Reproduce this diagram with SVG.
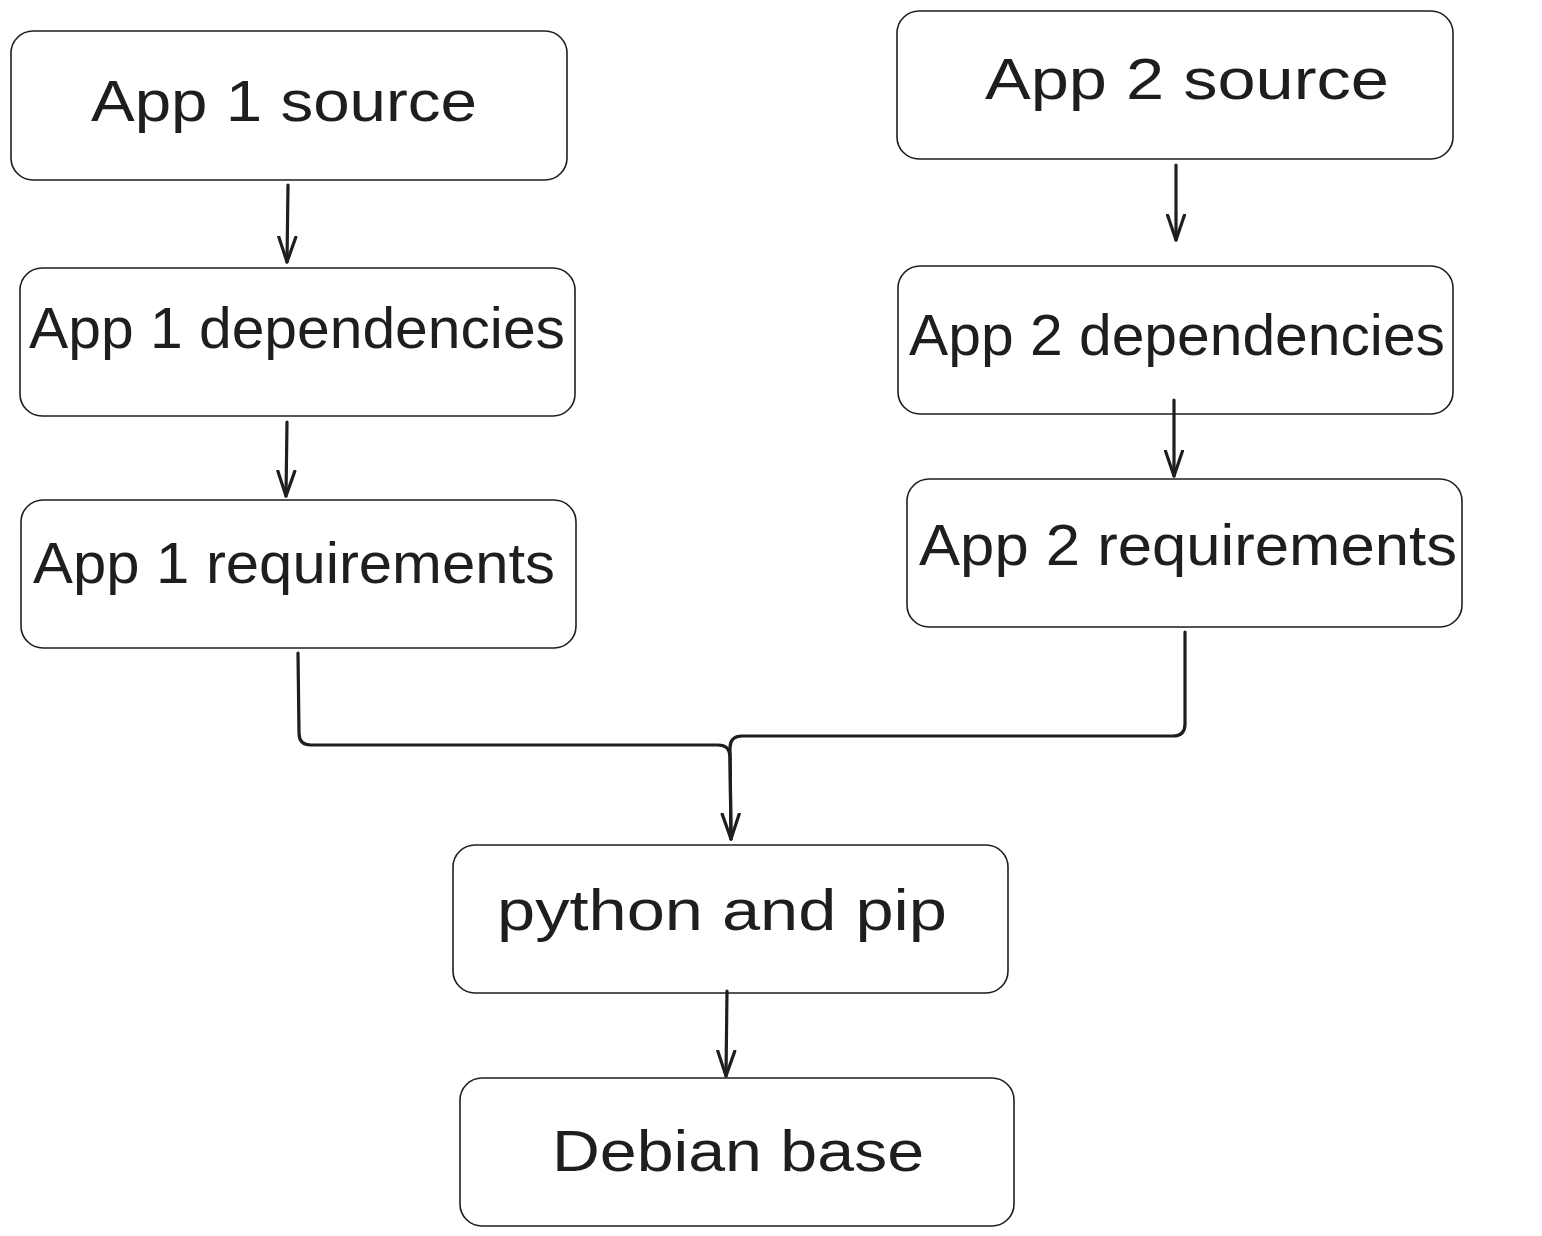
<svg xmlns="http://www.w3.org/2000/svg" width="1542" height="1236" viewBox="0 0 1542 1236">
<style>
.box{fill:#fff;stroke:#1e1e1e;stroke-width:1.6}
.lbl{font-family:"Liberation Sans","DejaVu Sans",sans-serif;font-size:58px;fill:#1e1e1e;text-anchor:middle}
.edge{fill:none;stroke:#1e1e1e;stroke-width:3.2;stroke-linecap:round;stroke-linejoin:round}
</style>
<defs>
<marker id="ah" markerWidth="30" markerHeight="24" refX="26" refY="12" orient="auto" markerUnits="userSpaceOnUse">
<path d="M1,3.5 L26,12 L1,20.5" fill="none" stroke="#1e1e1e" stroke-width="3.2" stroke-linecap="round" stroke-linejoin="round"/>
</marker>
</defs>
<rect width="1542" height="1236" fill="#fff"/>
<g id="n-app1-source"><rect class="box" x="11" y="31" width="556" height="149" rx="22"/><text class="lbl" x="284" y="121" textLength="386" lengthAdjust="spacingAndGlyphs">App 1 source</text></g>
<g id="n-app1-deps"><rect class="box" x="20" y="268" width="555" height="148" rx="22"/><text class="lbl" x="297" y="348" textLength="536" lengthAdjust="spacingAndGlyphs">App 1 dependencies</text></g>
<g id="n-app1-reqs"><rect class="box" x="21" y="500" width="555" height="148" rx="22"/><text class="lbl" x="294" y="583" textLength="522" lengthAdjust="spacingAndGlyphs">App 1 requirements</text></g>
<g id="n-app2-source"><rect class="box" x="897" y="11" width="556" height="148" rx="22"/><text class="lbl" x="1187" y="99" textLength="404" lengthAdjust="spacingAndGlyphs">App 2 source</text></g>
<g id="n-app2-deps"><rect class="box" x="898" y="266" width="555" height="148" rx="22"/><text class="lbl" x="1177" y="355" textLength="536" lengthAdjust="spacingAndGlyphs">App 2 dependencies</text></g>
<g id="n-app2-reqs"><rect class="box" x="907" y="479" width="555" height="148" rx="22"/><text class="lbl" x="1188" y="565" textLength="538" lengthAdjust="spacingAndGlyphs">App 2 requirements</text></g>
<g id="n-python"><rect class="box" x="453" y="845" width="555" height="148" rx="22"/><text class="lbl" x="722" y="930" textLength="450" lengthAdjust="spacingAndGlyphs">python and pip</text></g>
<g id="n-debian"><rect class="box" x="460" y="1078" width="554" height="148" rx="22"/><text class="lbl" x="738" y="1171" textLength="372" lengthAdjust="spacingAndGlyphs">Debian base</text></g>
<g id="edges">
<path class="edge" d="M288,185 L287,262" marker-end="url(#ah)"/>
<path class="edge" d="M287,422 L286,496" marker-end="url(#ah)"/>
<path class="edge" d="M1176,165 L1176,240" marker-end="url(#ah)"/>
<path class="edge" d="M1174,400 L1174,476" marker-end="url(#ah)"/>
<path class="edge" d="M298,653 L299,733 Q299,745 311,745 L718,745 Q730,745 730,757 L731,839" marker-end="url(#ah)"/>
<path class="edge" d="M1185,632 L1185,724 Q1185,736 1173,736 L742,736 Q730,736 730,748 L731,839"/>
<path class="edge" d="M727,991 L726,1076" marker-end="url(#ah)"/>
</g>
</svg>
